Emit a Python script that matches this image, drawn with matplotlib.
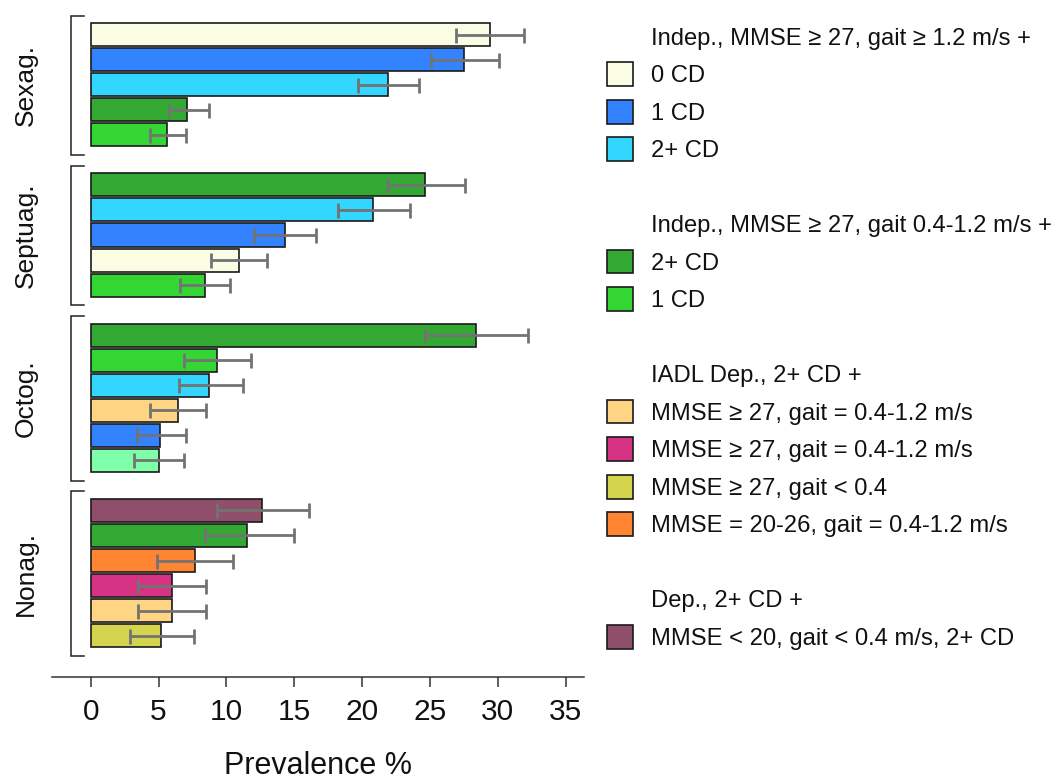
import matplotlib
matplotlib.use("Agg")
import matplotlib.pyplot as plt
from matplotlib.patches import Rectangle

plt.rcParams["font.family"] = ["Liberation Sans", "DejaVu Sans"]

W, H = 1057, 779

# prevalence (%) with 95% CI, top-to-bottom inside each age group
groups = ["Sexag.", "Septuag.", "Octog.", "Nonag."]

sexag_cats = ["i0", "i1", "i2", "s2", "s1"]
sexag_prev = [29.4, 27.5, 21.9, 7.1, 5.6]
sexag_lo = [26.9, 25.1, 19.7, 5.8, 4.4]
sexag_hi = [31.9, 30.1, 24.2, 8.7, 7.0]

septuag_cats = ["s2", "i2", "i1", "i0", "s1"]
septuag_prev = [24.6, 20.8, 14.3, 10.9, 8.4]
septuag_lo = [21.9, 18.2, 12.0, 8.9, 6.6]
septuag_hi = [27.6, 23.5, 16.6, 13.0, 10.3]

octog_cats = ["s2", "s1", "i2", "a1", "i1", "other"]
octog_prev = [28.4, 9.3, 8.7, 6.4, 5.1, 5.0]
octog_lo = [24.6, 6.9, 6.5, 4.4, 3.4, 3.2]
octog_hi = [32.2, 11.8, 11.2, 8.5, 7.0, 6.9]

nonag_cats = ["d1", "s2", "a4", "a2", "a1", "a3"]
nonag_prev = [12.6, 11.5, 7.7, 6.0, 6.0, 5.2]
nonag_lo = [9.3, 8.4, 4.9, 3.5, 3.5, 2.9]
nonag_hi = [16.1, 15.0, 10.5, 8.5, 8.5, 7.6]

colors = {
    "i0": "#FAFDE3",
    "i1": "#3383FF",
    "i2": "#33D6FF",
    "s2": "#33A833",
    "s1": "#33D633",
    "a1": "#FFD584",
    "a2": "#D63384",
    "a3": "#D4D44F",
    "a4": "#FF8533",
    "d1": "#8F4F6B",
    "other": "#80FFAA",
}

legend_blocks = [
    ("Indep., MMSE \u2265 27, gait \u2265 1.2 m/s +",
     [("i0", "0 CD"), ("i1", "1 CD"), ("i2", "2+ CD")]),
    ("Indep., MMSE \u2265 27, gait 0.4-1.2 m/s +",
     [("s2", "2+ CD"), ("s1", "1 CD")]),
    ("IADL Dep., 2+ CD +",
     [("a1", "MMSE \u2265 27, gait = 0.4-1.2 m/s"),
      ("a2", "MMSE \u2265 27, gait = 0.4-1.2 m/s"),
      ("a3", "MMSE \u2265 27, gait < 0.4"),
      ("a4", "MMSE = 20-26, gait = 0.4-1.2 m/s")]),
    ("Dep., 2+ CD +",
     [("d1", "MMSE < 20, gait < 0.4 m/s, 2+ CD")]),
]

group_data = [
    (sexag_cats, sexag_prev, sexag_lo, sexag_hi),
    (septuag_cats, septuag_prev, septuag_lo, septuag_hi),
    (octog_cats, octog_prev, octog_lo, octog_hi),
    (nonag_cats, nonag_prev, nonag_lo, nonag_hi),
]

fig = plt.figure(figsize=(W / 100, H / 100), dpi=100)

# axes: x-axis line runs from 51.6px to 583.6px, sits at y=676.7px
ax = fig.add_axes([51.6 / W, (H - 676.7) / H, 532 / W, 676.7 / H])
ax.set_xlim(-2.88, 36.32)
ax.set_ylim(25.64, -1.386)

row = 0
for name, (cats, prev, lo, hi) in zip(groups, group_data):
    ys = list(range(row, row + len(cats)))
    ax.barh(ys, prev, height=0.92, color=[colors[c] for c in cats],
            edgecolor="#1a1a1a", linewidth=1.2, zorder=2)
    xerr = [[p - l for p, l in zip(prev, lo)], [h - p for p, h in zip(prev, hi)]]
    ax.errorbar(prev, ys, xerr=xerr, fmt="none", ecolor="#737373",
                elinewidth=2.0, capsize=5.4, capthick=2.0, zorder=3)

    # bracket to the left of the group
    top, bot = ys[0] - 0.76, ys[-1] + 0.81
    ax.plot([-0.49, -1.47, -1.47, -0.49], [top, top, bot, bot],
            color="#222222", lw=1.1, clip_on=False, solid_joinstyle="miter")
    ax.text(-4.25, (ys[0] + ys[-1]) / 2, name, rotation=90, rotation_mode="anchor",
            ha="center", va="baseline", fontsize=19, color="#111111")
    row += len(cats) + 1

for side in ["left", "top", "right"]:
    ax.spines[side].set_visible(False)
ax.spines["bottom"].set_color("#333333")
ax.spines["bottom"].set_linewidth(1.1)
ax.set_yticks([])
ax.set_xticks(range(0, 36, 5))
ax.tick_params(axis="x", length=7.4, width=1.1, color="#333333",
               labelsize=21.5, labelcolor="#111111", pad=8)

fig.text(0.5 * (51.6 + 583.6) / W, 5 / H, "Prevalence %", ha="center",
         va="baseline", fontsize=22, color="#111111")

# legend on the right, drawn line by line
pitch = 37.5
ly = 36.7
for header, items in legend_blocks:
    fig.text(651 / W, 1 - (ly + 8.2) / H, header, fontsize=17.1,
             va="baseline", ha="left", color="#111111")
    ly += pitch
    for key, label in items:
        fig.add_artist(Rectangle((607.3 / W, 1 - (ly + 11.8) / H), 25.4 / W, 23.6 / H,
                                 transform=fig.transFigure, facecolor=colors[key],
                                 edgecolor="#1a1a1a", linewidth=1.2))
        fig.text(651 / W, 1 - (ly + 8.2) / H, label, fontsize=17.1,
                 va="baseline", ha="left", color="#111111")
        ly += pitch
    ly += pitch

fig.savefig("out.png", dpi=100)
